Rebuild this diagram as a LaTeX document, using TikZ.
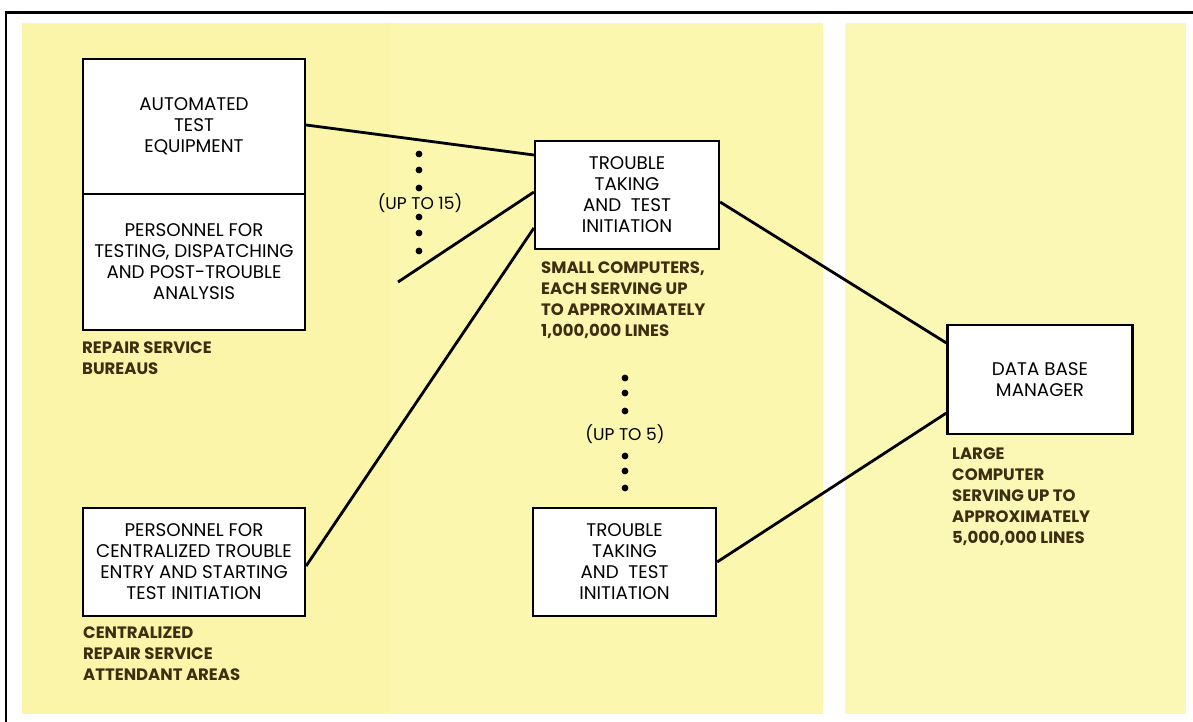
\documentclass[tikz,border=0pt]{standalone}
\usepackage{fontspec}
\setmainfont{Poppins}
\usetikzlibrary{calc}
\definecolor{paneA}{HTML}{FAF5A9}
\definecolor{paneB}{HTML}{FBF7AF}
\definecolor{paneC}{HTML}{FBF8B6}
\definecolor{captxt}{HTML}{3C2E10}
\begin{document}
\begin{tikzpicture}[x=1pt,y=-1pt,
  box/.style={draw=black, line width=2.2pt, fill=white, align=center, inner sep=0pt, font=\fontsize{18.3}{21}\selectfont},
  captext/.style={anchor=north west, align=left, inner sep=0pt, text=captxt, font=\bfseries\fontsize{16.5}{21}\selectfont},
  conn/.style={line width=2.8pt},
  dotnote/.style={font=\fontsize{17}{20}\selectfont, inner sep=1pt},
  dotmark/.style={fill=black}
]
\useasboundingbox (0,0) rectangle (1193,722);
\fill[white] (0,0) rectangle (1193,722);
\fill[paneA] (22,23) rectangle (390,714);
\fill[paneB] (390,23) rectangle (823,714);
\fill[paneC] (845,23) rectangle (1186,714);
\draw[line width=2.5pt] (6,722) -- (6,12.5) -- (1193,12.5);

% boxes
\node[box, minimum width=222pt, minimum height=135pt] (ate) at (194,126.5) {AUTOMATED\\TEST\\EQUIPMENT};
\node[box, minimum width=222pt, minimum height=136pt] (pers) at (194,262) {PERSONNEL FOR\\TESTING, DISPATCHING\\AND POST-TROUBLE\\ANALYSIS};
\node[box, minimum width=222pt, minimum height=108pt] (cent) at (194,562) {PERSONNEL FOR\\CENTRALIZED TROUBLE\\ENTRY AND STARTING\\TEST INITIATION};
\node[box, minimum width=184pt, minimum height=108pt] (tt1) at (627,195) {TROUBLE\\TAKING\\AND\ \ TEST\\INITIATION};
\node[box, minimum width=183pt, minimum height=108pt] (tt2) at (624.5,562) {TROUBLE\\TAKING\\AND\ \ TEST\\INITIATION};
\node[box, minimum width=185pt, minimum height=109pt] (dbm) at (1040,379.5) {DATA BASE\\MANAGER};

% captions
\node[captext] (capA) at (82,342) {REPAIR SERVICE\\BUREAUS};
\node[captext] (capB) at (83,627) {CENTRALIZED\\REPAIR SERVICE\\ATTENDANT AREAS};
\node[captext] (capC) at (541,262) {SMALL COMPUTERS,\\EACH SERVING UP\\TO APPROXIMATELY\\1,000,000 LINES};
\node[captext] (capD) at (952,448) {LARGE\\COMPUTER\\SERVING UP TO\\APPROXIMATELY\\5,000,000 LINES};

% connectors
\coordinate (free) at (398,282);
\draw[conn] ([yshift=1.5pt]ate.east) -- ([yshift=40pt]tt1.west);
\draw[conn] (free) -- ([yshift=3pt]tt1.west);
\draw[conn] ([yshift=-4pt]cent.east) -- ([yshift=-33pt]tt1.west);
\draw[conn] ([yshift=-7pt]tt1.east) -- ([yshift=36.5pt]dbm.west);
\draw[conn] (tt2.east) -- ([yshift=-33.5pt]dbm.west);

% multiplicity marks
\foreach \y in {154,170,188,217,233,251} \fill[dotmark] (419,\y) circle[radius=3.4pt];
\node[dotnote] (up15) at (420,203) {(UP TO 15)};
\foreach \y in {378,393,411,456,471,488} \fill[dotmark] (625,\y) circle[radius=3.4pt];
\node[dotnote] (up5) at (625,434) {(UP TO 5)};
\end{tikzpicture}
\end{document}
